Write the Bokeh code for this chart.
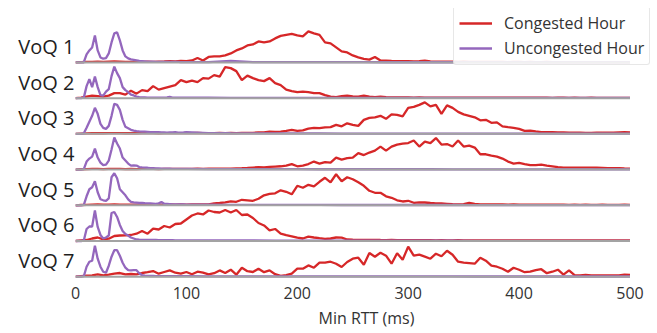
import numpy as np
from bokeh.plotting import figure
from bokeh.models import Legend, LegendItem, FixedTicker
from bokeh.embed import file_html
from bokeh.resources import INLINE

# ---------------- data ----------------
ROW_LABELS = ["VoQ 1", "VoQ 2", "VoQ 3", "VoQ 4", "VoQ 5", "VoQ 6", "VoQ 7"]
X_TICKS = [0, 100, 200, 300, 400, 500]
RTT_MIN, RTT_MAX = 0, 500

# Min RTT bins (ms)
RTT_CONG = np.arange(0, 501, 5)
RTT_UNCONG = np.concatenate([np.arange(0, 100.1, 2.5), np.arange(120, 501, 20)])

# Congested hour, relative density per 5 ms bin (0..500 ms)
CONG_VOQ1 = [0, 0.3, 0.5, 0.5, 0.8, 0.5, 0.8, 1.0, 0.8, 0.5,
             0.6, 0.6, 0.5, 0.8, 0.6, 0.8, 1.0, 1.3, 1.0, 1.5,
             1.2, 2.0, 4.5, 2.0, 5.5, 6.0, 6.0, 7.0, 9.0, 12.0,
             14.0, 17.0, 18.0, 21.0, 20.0, 21.0, 24.0, 26.5, 27.5, 28.5,
             27.0, 26.0, 31.0, 29.0, 27.5, 20.0, 19.0, 15.0, 11.0, 10.0,
             7.0, 5.0, 3.5, 2.8, 5.5, 2.0, 1.8, 1.5, 1.4, 1.3,
             1.2, 1.0, 1.3, 1.8, 1.0, 0.8, 0.9, 0.7, 0.8, 0.6,
             0.7, 0.6, 0.5, 0.6, 0.5, 0.5, 0.6, 0.5, 0.4, 0.5,
             0.5, 0.4, 0.5, 0.4, 0.4, 0.5, 0.4, 0.4, 0.3, 0.4,
             0.4, 0.3, 0.4, 0.3, 0.3, 0.4, 0.3, 0.3, 0.3, 0.3, 0.3]
CONG_VOQ2 = [0, 0.5, 1.5, 2.5, 2.0, 1.5, 2.5, 5.0, 5.0, 3.5,
             7.5, 4.5, 8.0, 7.0, 12.0, 8.5, 10.0, 11.5, 13.0, 18.0,
             16.0, 17.5, 16.0, 20.0, 19.5, 23.0, 21.5, 31.0, 30.0, 27.0,
             18.0, 22.5, 20.0, 18.0, 17.0, 20.0, 15.0, 13.0, 8.5, 7.0,
             6.0, 6.5, 6.0, 5.0, 5.0, 3.0, 1.5, 1.0, 2.0, 2.5,
             1.8, 1.5, 2.5, 1.5, 1.0, 1.5, 1.0, 0.8, 0.7, 0.8,
             0.7, 0.6, 0.7, 0.6, 0.6, 0.5, 0.6, 0.5, 0.5, 0.6,
             0.5, 0.5, 0.4, 0.5, 0.5, 0.4, 0.5, 0.4, 0.4, 0.5,
             0.4, 0.4, 0.4, 0.5, 0.4, 0.4, 0.3, 0.4, 0.4, 0.3,
             0.4, 0.3, 0.3, 0.4, 0.3, 0.3, 0.3, 0.3, 0.3, 0.3, 0.3]
CONG_VOQ3 = [0, 0.3, 0.5, 0.6, 0.7, 0.6, 0.7, 0.8, 0.7, 0.6,
             0.7, 0.6, 0.7, 0.8, 0.7, 0.6, 0.7, 0.8, 0.7, 0.8,
             0.7, 0.8, 0.9, 0.8, 0.8, 0.7, 0.9, 0.8, 0.9, 0.8,
             0.9, 1.0, 1.0, 1.5, 1.5, 2.3, 2.0, 2.3, 3.0, 4.0,
             3.0, 3.5, 5.3, 6.0, 5.7, 6.5, 6.7, 9.0, 7.5, 10.5,
             9.0, 8.0, 14.0, 16.0, 16.5, 18.0, 15.0, 19.5, 19.0, 17.5,
             26.0, 27.0, 29.0, 31.5, 27.5, 29.0, 20.0, 28.5, 26.0, 22.0,
             19.5, 18.0, 16.5, 13.5, 14.0, 11.0, 11.5, 7.5, 6.7, 6.0,
             5.0, 3.0, 3.3, 2.5, 1.8, 1.7, 1.6, 1.5, 1.5, 1.3,
             1.3, 1.2, 1.0, 1.0, 1.1, 1.2, 1.3, 1.2, 1.4, 1.6, 1.5]
CONG_VOQ4 = [0, 0.3, 0.5, 0.6, 0.7, 0.5, 0.6, 0.7, 0.6, 0.5,
             0.6, 0.5, 0.6, 0.7, 0.6, 0.5, 0.6, 0.7, 0.6, 0.7,
             0.6, 0.7, 0.8, 0.7, 0.8, 0.8, 0.9, 0.9, 1.0, 1.2,
             1.3, 1.6, 2.0, 2.3, 2.2, 2.6, 3.0, 3.3, 4.0, 5.5,
             3.3, 4.0, 5.5, 8.0, 6.0, 7.5, 7.0, 12.0, 10.0, 11.5,
             12.0, 16.5, 14.5, 17.0, 19.0, 23.0, 19.0, 23.0, 25.0, 26.0,
             26.5, 29.0, 23.0, 28.0, 26.5, 31.5, 25.0, 25.5, 23.0, 29.0,
             23.0, 24.0, 22.0, 15.3, 15.3, 14.0, 13.0, 11.0, 8.0, 6.0,
             6.7, 5.5, 4.5, 4.5, 5.0, 4.0, 3.3, 2.5, 2.0, 2.0,
             1.9, 2.0, 2.0, 1.9, 1.8, 1.7, 1.5, 1.5, 1.3, 1.1, 1.0]
CONG_VOQ5 = [0, 0.3, 0.5, 0.7, 0.8, 0.6, 0.7, 0.8, 0.7, 0.6,
             0.7, 0.6, 0.7, 0.6, 0.7, 0.6, 0.7, 0.8, 0.7, 0.8,
             0.7, 0.8, 0.8, 0.9, 1.0, 1.8, 2.3, 3.0, 4.0, 3.5,
             5.5, 5.0, 4.5, 6.5, 10.0, 11.5, 12.0, 15.0, 13.5, 11.0,
             19.5, 17.5, 20.5, 19.0, 23.5, 27.5, 23.0, 31.0, 24.0, 28.0,
             26.0, 23.0, 19.5, 14.5, 12.5, 12.5, 9.0, 7.5, 5.0, 3.8,
             4.5, 2.5, 3.0, 2.8, 2.3, 2.0, 1.8, 1.5, 1.2, 1.0,
             1.2, 2.3, 1.5, 1.0, 1.0, 0.9, 0.8, 0.8, 0.7, 0.8,
             0.7, 0.7, 0.6, 0.7, 0.6, 0.6, 0.7, 0.6, 0.6, 0.5,
             0.6, 0.5, 0.6, 0.5, 0.5, 0.6, 0.5, 0.5, 0.5, 0.6, 0.5]
CONG_VOQ6 = [0, 0.5, 1.0, 2.5, 3.5, 1.7, 2.3, 5.0, 5.5, 5.7,
             6.0, 7.3, 10.0, 7.3, 12.3, 11.5, 15.0, 13.5, 17.0, 17.5,
             21.5, 25.5, 27.5, 26.5, 30.5, 29.0, 28.5, 31.0, 28.5, 31.0,
             26.0, 26.5, 23.0, 18.0, 15.5, 10.7, 12.0, 7.3, 5.8, 4.7,
             3.3, 2.5, 4.3, 3.5, 2.8, 2.2, 2.5, 3.5, 3.3, 1.5,
             1.3, 1.2, 1.1, 1.0, 1.2, 1.0, 0.9, 1.0, 0.9, 0.8,
             0.9, 0.8, 0.8, 0.9, 0.8, 0.7, 0.8, 0.7, 0.7, 0.8,
             0.7, 0.7, 0.6, 0.7, 0.6, 0.7, 0.6, 0.6, 0.7, 0.6,
             0.6, 0.5, 0.6, 0.6, 0.5, 0.6, 0.5, 0.5, 0.6, 0.5,
             0.5, 0.5, 0.5, 0.6, 0.5, 0.5, 0.5, 0.5, 0.5, 0.5, 0.5]
CONG_VOQ7 = [0, 0.5, 1.0, 1.3, 2.3, 1.3, 2.0, 3.0, 3.7, 2.3,
             2.7, 2.3, 3.7, 4.5, 5.7, 3.0, 4.7, 6.3, 4.0, 3.0,
             4.7, 2.5, 5.0, 4.0, 2.3, 3.5, 6.3, 3.7, 7.0, 2.0,
             9.0, 5.5, 4.7, 8.0, 4.5, 6.3, 2.5, 0.8, 1.5, 3.0,
             8.0, 8.0, 11.3, 9.0, 14.0, 14.0, 15.0, 13.0, 9.7, 14.7,
             18.0, 19.0, 12.0, 23.7, 20.0, 24.0, 21.0, 13.0, 23.5, 17.0,
             30.0, 21.0, 22.0, 20.0, 18.0, 23.0, 20.5, 26.0, 22.0, 15.0,
             14.0, 13.5, 13.0, 19.0, 16.0, 11.0, 10.0, 8.0, 5.0, 9.0,
             7.0, 4.5, 5.0, 6.5, 7.5, 3.5, 5.0, 7.0, 2.0, 6.3,
             1.5, 1.3, 1.8, 1.3, 1.3, 1.3, 1.3, 1.2, 1.3, 2.0, 1.8]

# Uncongested hour, relative density (2.5 ms bins to 100 ms, then every 20 ms)
UNCONG_VOQ1 = [0, 0, 0, 0.2, 8.0, 12.0, 15.0, 27.0, 12.0, 5.0,
               3.7, 4.3, 9.0, 20.0, 29.0, 30.0, 22.0, 12.0, 6.0, 4.0,
               3.0, 2.5, 2.0, 1.5, 1.3, 1.1, 0.9, 0.7, 0.7, 0.6,
               0.6, 0.6, 0.5, 0.5, 0.5, 0.5, 0.5, 0.5, 0.4, 0.4, 0.4,
               0.4, 1.5, 0.4, 0.3, 0.3, 0.3, 0.3, 0.3, 0.2, 0.2,
               0.2, 0.2, 0.2, 0.2, 0.2, 0.2, 0.2, 0.2, 0.2, 0.2]
UNCONG_VOQ2 = [0, 0, 0, 0.5, 12.0, 19.0, 11.0, 21.5, 11.0, 3.0,
               2.5, 6.5, 9.0, 22.0, 31.5, 25.0, 20.0, 11.0, 8.0, 6.0,
               3.5, 2.7, 1.5, 1.0, 0.8, 0.7, 0.6, 0.6, 0.5, 0.5,
               0.6, 0.5, 0.5, 0.8, 1.2, 0.6, 0.5, 0.4, 0.4, 0.4, 0.4,
               0.4, 0.3, 0.3, 0.3, 0.3, 0.3, 0.3, 0.2, 0.2, 0.2,
               0.2, 0.2, 0.2, 0.2, 0.2, 0.2, 0.2, 0.2, 0.2, 0.2]
UNCONG_VOQ3 = [0, 0, 0, 0.5, 6.0, 12.0, 18.0, 26.0, 20.0, 10.0,
               6.0, 5.0, 8.0, 18.0, 30.0, 29.0, 24.0, 14.0, 7.0, 5.5,
               4.0, 3.3, 2.8, 2.5, 2.3, 2.2, 2.0, 1.8, 1.7, 1.7,
               1.6, 1.5, 1.4, 1.3, 1.5, 1.4, 1.7, 1.3, 1.2, 1.4, 1.8,
               0.8, 0.6, 0.5, 0.4, 0.4, 0.4, 0.3, 0.3, 0.3, 0.3,
               0.3, 0.3, 0.3, 0.2, 0.2, 0.2, 0.2, 0.2, 0.2, 0.2]
UNCONG_VOQ4 = [0, 0, 0, 0.5, 8.0, 11.0, 13.0, 21.0, 12.0, 7.0,
               4.5, 5.0, 9.0, 20.0, 32.0, 26.0, 21.0, 12.0, 9.0, 6.0,
               4.0, 4.3, 4.0, 2.5, 2.2, 2.0, 1.8, 1.5, 1.4, 1.2,
               1.2, 1.0, 0.9, 0.8, 0.8, 0.7, 0.7, 0.7, 0.6, 0.6, 0.6,
               0.5, 0.5, 0.4, 0.4, 0.4, 0.3, 0.3, 0.3, 0.3, 0.3,
               0.3, 0.2, 0.2, 0.2, 0.2, 0.2, 0.2, 0.2, 0.2, 0.2]
UNCONG_VOQ5 = [0, 0, 0, 0.5, 9.0, 16.0, 18.0, 24.0, 13.0, 6.0,
               5.0, 4.5, 7.0, 28.0, 32.0, 27.0, 16.0, 13.0, 10.0, 6.0,
               3.5, 3.0, 2.7, 2.4, 2.3, 2.1, 2.0, 1.9, 1.7, 1.5,
               2.0, 3.2, 1.5, 1.4, 1.2, 1.0, 1.0, 0.9, 0.8, 0.8, 0.7,
               0.6, 0.5, 0.5, 0.4, 0.4, 0.4, 0.3, 0.3, 0.3, 0.3,
               0.3, 0.3, 0.2, 0.2, 0.2, 0.2, 0.2, 0.2, 0.2, 0.2]
UNCONG_VOQ6 = [0, 0, 0, 0.5, 12.0, 14.5, 14.5, 30.5, 14.0, 6.0,
               2.5, 3.5, 5.5, 28.0, 29.0, 24.0, 16.0, 10.0, 7.0, 5.5,
               3.5, 2.5, 1.5, 1.3, 1.2, 1.1, 1.0, 1.0, 1.0, 1.0,
               0.9, 0.9, 0.9, 0.8, 0.8, 0.8, 0.7, 0.7, 0.7, 0.7, 0.7,
               0.6, 0.5, 0.5, 0.4, 0.4, 0.4, 0.3, 0.3, 0.3, 0.3,
               0.3, 0.3, 0.2, 0.2, 0.2, 0.2, 0.2, 0.2, 0.2, 0.2]
UNCONG_VOQ7 = [0, 0, 0, 0.5, 10.0, 15.0, 16.0, 31.0, 18.0, 10.0,
               5.0, 4.0, 11.0, 20.0, 26.5, 26.5, 21.0, 14.0, 9.0, 6.5,
               6.3, 6.5, 6.5, 3.5, 1.5, 1.0, 0.8, 0.7, 0.7, 0.6,
               0.6, 0.6, 0.6, 0.5, 0.5, 0.5, 0.5, 0.5, 0.5, 0.5, 0.5,
               0.4, 0.4, 0.4, 0.4, 0.3, 0.3, 0.3, 0.3, 0.3, 0.3,
               0.3, 0.3, 0.2, 0.2, 0.2, 0.2, 0.2, 0.2, 0.2, 0.2]

CONGESTED = [CONG_VOQ1, CONG_VOQ2, CONG_VOQ3, CONG_VOQ4, CONG_VOQ5, CONG_VOQ6, CONG_VOQ7]
UNCONGESTED = [UNCONG_VOQ1, UNCONG_VOQ2, UNCONG_VOQ3, UNCONG_VOQ4, UNCONG_VOQ5, UNCONG_VOQ6, UNCONG_VOQ7]

# ---------------- style ----------------
RED = "#d62728"
PURPLE = "#9467bd"
BASE_GRAY = "#a3a3a3"
FONT = "Open Sans"
ROW_SCALE = 1.0 / 35.7   # density unit -> row units
N = len(ROW_LABELS)

p = figure(width=657, height=333, x_range=(0, 524.8), y_range=(-0.05, 7.51),
           output_backend="svg", toolbar_location=None,
           min_border_left=75, min_border_right=0, min_border_top=8,
           min_border_bottom=55)
p.outline_line_color = None
p.xgrid.visible = False
p.ygrid.visible = False
p.background_fill_color = "white"
p.border_fill_color = "white"

red_renderers = []
purple_renderers = []
for i in range(N):
    base = N - 1 - i
    yr = base + np.asarray(CONGESTED[i], dtype=float) * ROW_SCALE
    yp = base + np.asarray(UNCONGESTED[i], dtype=float) * ROW_SCALE
    r1 = p.line(RTT_CONG, yr, line_color=RED, line_width=2.3)
    r2 = p.line(RTT_UNCONG, yp, line_color=PURPLE, line_width=2.3)
    red_renderers.append(r1)
    purple_renderers.append(r2)

bases = [N - 1 - i for i in range(N)]
p.segment(x0=[RTT_MIN] * N, x1=[RTT_MAX] * N, y0=bases, y1=bases,
          line_color=BASE_GRAY, line_width=2)

# y axis: row labels
yticks = [b + 0.45 for b in bases]
p.yaxis.ticker = FixedTicker(ticks=yticks)
p.yaxis.major_label_overrides = {t: lab for t, lab in zip(yticks, ROW_LABELS)}
p.yaxis.axis_line_color = None
p.yaxis.major_tick_line_color = None
p.yaxis.minor_tick_line_color = None
p.yaxis.major_tick_out = 0
p.yaxis.major_tick_in = 0
p.yaxis.major_label_standoff = 1
p.yaxis.major_label_text_font = FONT
p.yaxis.major_label_text_font_size = "20px"
p.yaxis.major_label_text_color = "#1e1e1e"

# x axis
p.xaxis.ticker = FixedTicker(ticks=X_TICKS)
p.xaxis.axis_line_color = None
p.xaxis.major_tick_line_color = None
p.xaxis.minor_tick_line_color = None
p.xaxis.major_tick_out = 0
p.xaxis.major_tick_in = 0
p.xaxis.major_label_standoff = 8
p.xaxis.major_label_text_font = FONT
p.xaxis.major_label_text_font_size = "16px"
p.xaxis.major_label_text_color = "#333333"
p.xaxis.axis_label = "Min RTT (ms)"
p.xaxis.axis_label_text_font = FONT
p.xaxis.axis_label_text_font_size = "16px"
p.xaxis.axis_label_text_font_style = "normal"
p.xaxis.axis_label_text_color = "#333333"
p.xaxis.axis_label_standoff = 5

legend = Legend(items=[LegendItem(label="Congested Hour", renderers=[red_renderers[0]]),
                       LegendItem(label="Uncongested Hour", renderers=[purple_renderers[0]])],
                location=(378, 213))
legend.label_text_font = FONT
legend.label_text_font_size = "16px"
legend.label_text_color = "#333333"
legend.glyph_width = 33
legend.glyph_height = 20
legend.label_height = 20
legend.label_standoff = 12
legend.spacing = 3
legend.padding = 5
legend.margin = 0
legend.border_line_color = "#cfcfcf"
legend.border_line_width = 1.5
legend.border_radius = 3
legend.background_fill_color = "white"
legend.background_fill_alpha = 0.85
p.add_layout(legend, "center")

open("out.html", "w").write(file_html(p, INLINE))
